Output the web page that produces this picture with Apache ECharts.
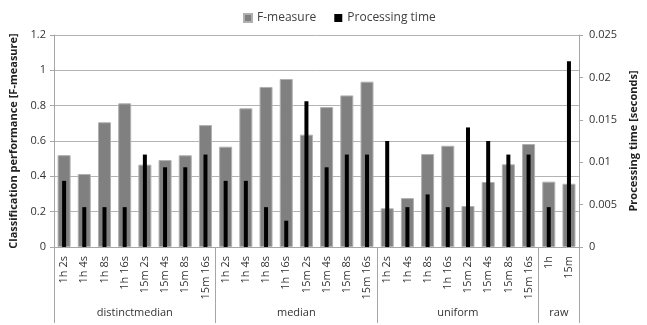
<!DOCTYPE html>
<html><head><meta charset="utf-8">
<script src="https://cdn.jsdelivr.net/npm/echarts@6/dist/echarts.min.js"></script>
<style>html,body{margin:0;padding:0;background:#fff}#c{width:647px;height:325px}</style>
</head><body><div id="c"></div>
<script>
const categories = [
  '1h 2s','1h 4s','1h 8s','1h 16s','15m 2s','15m 4s','15m 8s','15m 16s',
  '1h 2s','1h 4s','1h 8s','1h 16s','15m 2s','15m 4s','15m 8s','15m 16s',
  '1h 2s','1h 4s','1h 8s','1h 16s','15m 2s','15m 4s','15m 8s','15m 16s',
  '1h','15m'
];
const groups = ['distinctmedian','median','uniform','raw'];
const groupSizes = [8,8,8,2];
const fMeasure = [
  0.52,0.413,0.706,0.813,0.466,0.492,0.519,0.69,
  0.568,0.785,0.906,0.951,0.636,0.792,0.858,0.936,
  0.219,0.277,0.526,0.573,0.232,0.368,0.468,0.583,
  0.37,0.358
];
const procTime = [
  0.0078,0.0047,0.0047,0.0047,0.0109,0.0094,0.0094,0.0109,
  0.0078,0.0078,0.0047,0.0031,0.0172,0.0094,0.0109,0.0109,
  0.0125,0.0047,0.0062,0.0047,0.0141,0.0125,0.0109,0.0109,
  0.0047,0.0219
];

// group boundaries and centers (in category units)
const bounds = [0]; const centers = [];
groupSizes.forEach(n => { const s = bounds[bounds.length-1]; centers.push(s + n/2); bounds.push(s + n); });

const font = 'Open Sans';
const chart = echarts.init(document.getElementById('c'));
chart.setOption({
  animation: false,
  textStyle: { fontFamily: font },
  legend: {
    top: 7, left: 238, itemWidth: 8, itemHeight: 8, itemGap: 18,
    textStyle: { fontSize: 12, color: '#404040', fontFamily: font },
    data: [{name:'F-measure', icon:'rect'}, {name:'Processing time', icon:'rect'}]
  },
  grid: { left: 52, right: 66, top: 35, bottom: 78 },
  xAxis: [
    {
      type: 'category', data: categories, position: 'bottom',
      axisLine: { lineStyle: { color: '#a6a6a6' } },
      axisTick: { length: 51, lineStyle: { color: '#a6a6a6' } },
      axisLabel: { rotate: 90, interval: 0, fontSize: 11, color: '#333', margin: 9, fontFamily: font }
    },
    {
      type: 'value', min: 0, max: 26, position: 'bottom', offset: 0,
      splitLine: { show: false }, axisLine: { show: false },
      axisTick: { show: true, length: 76, customValues: bounds, lineStyle: { color: '#a6a6a6' } },
      axisLabel: {
        customValues: centers, margin: 60, fontSize: 11, color: '#333', fontFamily: font,
        formatter: v => { const i = centers.indexOf(v); return i >= 0 ? groups[i] : ''; }
      }
    },
    { type: 'category', data: categories, show: false, position: 'bottom' }
  ],
  yAxis: [
    {
      type: 'value', min: 0, max: 1.2, interval: 0.2, position: 'left',
      name: 'Classification performance [F-measure]', nameLocation: 'middle', nameRotate: 90, nameGap: 35,
      nameTextStyle: { fontWeight: 'bold', fontSize: 11, color: '#222', fontFamily: font },
      axisLine: { show: true, lineStyle: { color: '#a6a6a6' } },
      axisTick: { show: true, length: 4, lineStyle: { color: '#a6a6a6' } },
      axisLabel: { fontSize: 11, color: '#333', margin: 8, fontFamily: font },
      splitLine: { lineStyle: { color: '#b3b3b3', width: 1 } }
    },
    {
      type: 'value', min: 0, max: 0.025, interval: 0.005, position: 'right',
      name: 'Processing time [seconds]', nameLocation: 'middle', nameRotate: 90, nameGap: 46,
      nameTextStyle: { fontWeight: 'bold', fontSize: 11, color: '#222', fontFamily: font },
      axisLine: { show: true, lineStyle: { color: '#a6a6a6' } },
      axisTick: { show: true, length: 4, lineStyle: { color: '#a6a6a6' } },
      axisLabel: { fontSize: 11, color: '#333', margin: 10, fontFamily: font },
      splitLine: { show: false }
    }
  ],
  series: [
    {
      name: 'F-measure', type: 'bar', xAxisIndex: 0, yAxisIndex: 0, data: fMeasure,
      barWidth: 13, itemStyle: { color: '#808080', borderColor: '#b0b0b0', borderWidth: 1 }, z: 2
    },
    {
      name: 'Processing time', type: 'bar', xAxisIndex: 2, yAxisIndex: 1, data: procTime,
      barWidth: 4, itemStyle: { color: '#000' }, z: 3
    }
  ]
});
</script></body></html>
